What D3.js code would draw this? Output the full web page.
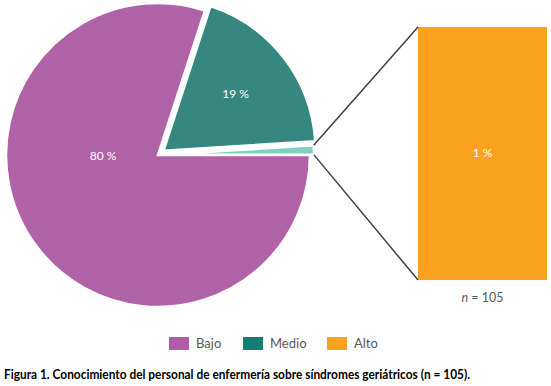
<!DOCTYPE html>
<html>
<head>
<meta charset="utf-8">
<script src="https://cdn.jsdelivr.net/npm/d3@7"></script>
<style>
  body { margin: 0; background: #fff; }
  svg { display: block; }
</style>
</head>
<body>
<div id="wrapper"></div>
<script>
const categories = ["Bajo", "Medio", "Alto"]
const values = [80, 19, 1]
const barCategories = ["Alto"]
const barValues = [1]
const caption = "Figura 1. Conocimiento del personal de enfermería sobre síndromes geriátricos (n = 105)."

const dimensions = { width: 551, height: 386 }
const pieColors = ["#B062A6", "#36877F", "#80CFC3"]
const legendColors = ["#AE5DA6", "#107E73", "#FAA21F"]
const barColor = "#FAA21F"

const wrapper = d3.select("#wrapper")
  .append("svg")
    .attr("width", dimensions.width)
    .attr("height", dimensions.height)

const data = categories.map((c, i) => ({ name: c, value: values[i] }))

// pie
const cx = 158, cy = 155, radius = 152
const pie = d3.pie()
  .sort(null)
  .value(d => d.value)
  .startAngle(Math.PI / 2)
  .endAngle(Math.PI / 2 + 2 * Math.PI)
const arcs = pie(data)
const arc = d3.arc().innerRadius(0).outerRadius(radius)

const explode = [0, 7, 4]
const offset = (d, i) => {
  const a = (d.startAngle + d.endAngle) / 2
  return d3.pointRadial(a, explode[i])
}

const pieGroup = wrapper.append("g")
  .attr("transform", `translate(${cx},${cy})`)

pieGroup.selectAll("path")
  .data(arcs)
  .join("path")
    .attr("d", arc)
    .attr("transform", (d, i) => `translate(${offset(d, i)})`)
    .attr("fill", (d, i) => pieColors[i])
    .attr("stroke", "#fff")
    .attr("stroke-width", 2.5)
    .attr("stroke-linejoin", "miter")

pieGroup.selectAll("text")
  .data(arcs.slice(0, 2))
  .join("text")
    .attr("x", (d, i) => i == 0 ? -55 : d3.pointRadial((d.startAngle + d.endAngle) / 2, radius * 0.6)[0] + offset(d, i)[0])
    .attr("y", (d, i) => i == 0 ? 2 : d3.pointRadial((d.startAngle + d.endAngle) / 2, radius * 0.6)[1] + offset(d, i)[1])
    .attr("text-anchor", "middle")
    .attr("dominant-baseline", "middle")
    .attr("fill", "#fff")
    .style("font-family", "Lato, 'Open Sans', sans-serif")
    .style("font-size", "12px")
    .text(d => d.data.value + " %")

// bar of pie
const barX = d3.scaleBand().domain(barCategories).range([418, 547]).padding(0)
const barY = d3.scaleLinear().domain([0, d3.sum(barValues)]).range([280, 27])

wrapper.selectAll(".bar")
  .data(barValues)
  .join("rect")
    .attr("class", "bar")
    .attr("x", (d, i) => barX(barCategories[i]))
    .attr("width", barX.bandwidth())
    .attr("y", d => barY(d))
    .attr("height", d => barY(0) - barY(d))
    .attr("fill", barColor)

wrapper.append("text")
  .attr("x", barX(barCategories[0]) + barX.bandwidth() / 2)
  .attr("y", (barY(0) + barY(barValues[0])) / 2)
  .attr("text-anchor", "middle")
  .attr("dominant-baseline", "middle")
  .attr("fill", "#fff")
  .style("font-family", "Lato, 'Open Sans', sans-serif")
  .style("font-size", "12px")
  .text(barValues[0] + " %")

const nText = wrapper.append("text")
  .attr("x", barX(barCategories[0]) + barX.bandwidth() / 2)
  .attr("y", 302)
  .attr("text-anchor", "middle")
  .attr("fill", "#595959")
  .style("font-family", "Lato, 'Open Sans', sans-serif")
  .style("font-size", "12.5px")
nText.append("tspan").style("font-style", "italic").text("n")
nText.append("tspan").text(" = 105")

// connector lines
const other = arcs[2]
const o = offset(other, 2)
const pTop = d3.pointRadial(other.startAngle, radius)
const pBot = d3.pointRadial(other.endAngle, radius)
const connectors = [
  [[cx + o[0] + pTop[0], cy + o[1] + pTop[1]], [barX.range()[0], barY.range()[1]]],
  [[cx + o[0] + pBot[0], cy + o[1] + pBot[1]], [barX.range()[0], barY.range()[0]]],
]
wrapper.selectAll(".connector")
  .data(connectors)
  .join("line")
    .attr("class", "connector")
    .attr("x1", d => d[0][0]).attr("y1", d => d[0][1])
    .attr("x2", d => d[1][0]).attr("y2", d => d[1][1])
    .attr("stroke", "#404040")
    .attr("stroke-width", 1.5)

// legend
const legendX = [169, 243, 327]
const legend = wrapper.selectAll(".legend")
  .data(categories)
  .join("g")
    .attr("class", "legend")
    .attr("transform", (d, i) => `translate(${legendX[i]},337)`)
legend.append("rect")
  .attr("width", 20)
  .attr("height", 13)
  .attr("fill", (d, i) => legendColors[i])
legend.append("text")
  .attr("x", 27)
  .attr("y", 11)
  .attr("fill", "#595959")
  .style("font-family", "Lato, 'Open Sans', sans-serif")
  .style("font-size", "13px")
  .text(d => d)

// caption
wrapper.append("text")
  .attr("x", 4)
  .attr("y", 379)
  .attr("fill", "#000")
  .style("font-family", "Lato, 'Open Sans', sans-serif")
  .style("font-weight", "bold")
  .style("font-size", "13px")
  .attr("textLength", 466)
  .attr("lengthAdjust", "spacingAndGlyphs")
  .text(caption)
</script>
</body>
</html>
